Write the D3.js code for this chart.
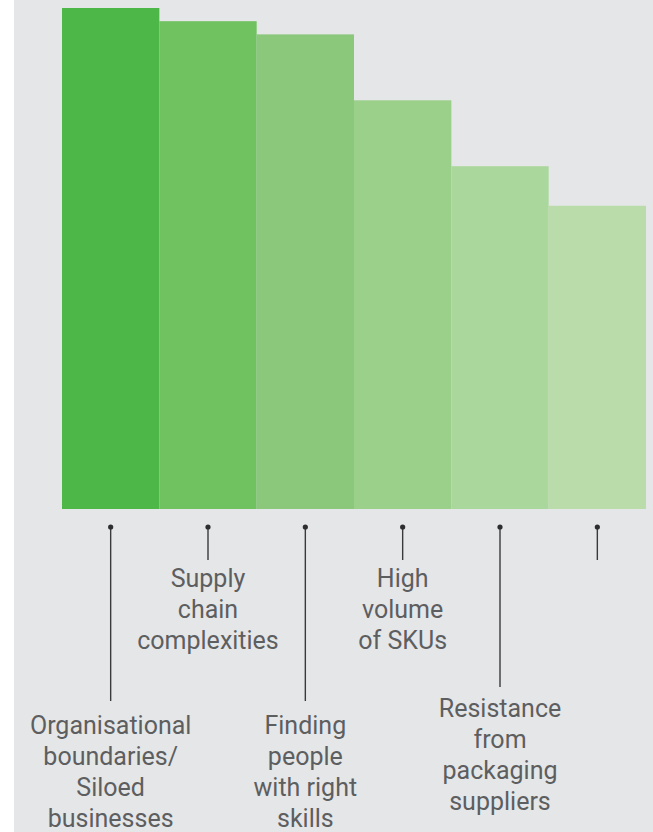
<!DOCTYPE html>
<html>
<head>
<meta charset="utf-8">
<script src="https://cdn.jsdelivr.net/npm/d3@7"></script>
<style>
  html, body { margin: 0; padding: 0; background: #ffffff; }
  svg { display: block; }
  .label text { font-family: Roboto, "Noto Sans", sans-serif; font-size: 25px; fill: #5d5e60; }
</style>
</head>
<body>
<div id="chart"></div>
<script>
'use strict';

// share of respondents (%) per barrier
const categories = [
  'Organisational boundaries/ Siloed businesses',
  'Supply chain complexities',
  'Finding people with right skills',
  'High volume of SKUs',
  'Resistance from packaging suppliers',
  'Other'
];
const values = [38, 37, 36, 31, 26, 23];
const labelLines = [
  ['Organisational', 'boundaries/', 'Siloed', 'businesses'],
  ['Supply', 'chain', 'complexities'],
  ['Finding', 'people', 'with right', 'skills'],
  ['High', 'volume', 'of SKUs'],
  ['Resistance', 'from', 'packaging', 'suppliers'],
  []
];
const barColors = ['#4db848', '#70c160', '#8bc87b', '#9bd08a', '#aad79b', '#b9dcaa'];

const width = 653;
const height = 832;
const margin = { top: 8, right: 7, bottom: 323, left: 62 };
const baseY = height - margin.bottom;

const svg = d3.select('#chart').append('svg')
  .attr('width', width)
  .attr('height', height);

svg.append('rect')
  .attr('x', 14)
  .attr('y', 0)
  .attr('width', width - 14)
  .attr('height', height)
  .attr('fill', '#e5e6e8');

const x = d3.scaleBand()
  .domain(categories)
  .range([margin.left, width - margin.right])
  .padding(0);

const y = d3.scaleLinear()
  .domain([0, d3.max(values)])
  .range([baseY, margin.top]);

svg.append('g')
  .selectAll('rect')
  .data(categories)
  .enter().append('rect')
    .attr('x', (d) => x(d))
    .attr('y', (d, i) => y(values[i]))
    .attr('width', x.bandwidth())
    .attr('height', (d, i) => baseY - y(values[i]))
    .attr('fill', (d, i) => barColors[i]);

// leader layout: where each line stops and where its label's first baseline sits
const dotY = 527;
const lineHeight = 31;
const leader = [
  { end: 701, baseline: 734 },
  { end: 560, baseline: 587 },
  { end: 701, baseline: 734 },
  { end: 560, baseline: 587 },
  { end: 687, baseline: 717 },
  { end: 560, baseline: 587 }
];

const labels = svg.append('g')
  .selectAll('.label')
  .data(categories)
  .enter().append('g')
    .attr('class', 'label')
    .attr('transform', (d) => `translate(${x(d) + x.bandwidth() / 2},0)`);

labels.append('line')
  .attr('x1', 0)
  .attr('x2', 0)
  .attr('y1', dotY)
  .attr('y2', (d, i) => leader[i].end)
  .attr('stroke', '#3a3a3c')
  .attr('stroke-width', 1.4);

labels.append('circle')
  .attr('cx', 0)
  .attr('cy', dotY)
  .attr('r', 2.6)
  .attr('fill', '#2e2e30');

labels.append('text')
  .attr('text-anchor', 'middle')
  .selectAll('tspan')
  .data((d, i) => labelLines[i].map((t, j) => ({ t, y: leader[i].baseline + j * lineHeight })))
  .enter().append('tspan')
    .attr('x', 0)
    .attr('y', (d) => d.y)
    .text((d) => d.t);
</script>
</body>
</html>
